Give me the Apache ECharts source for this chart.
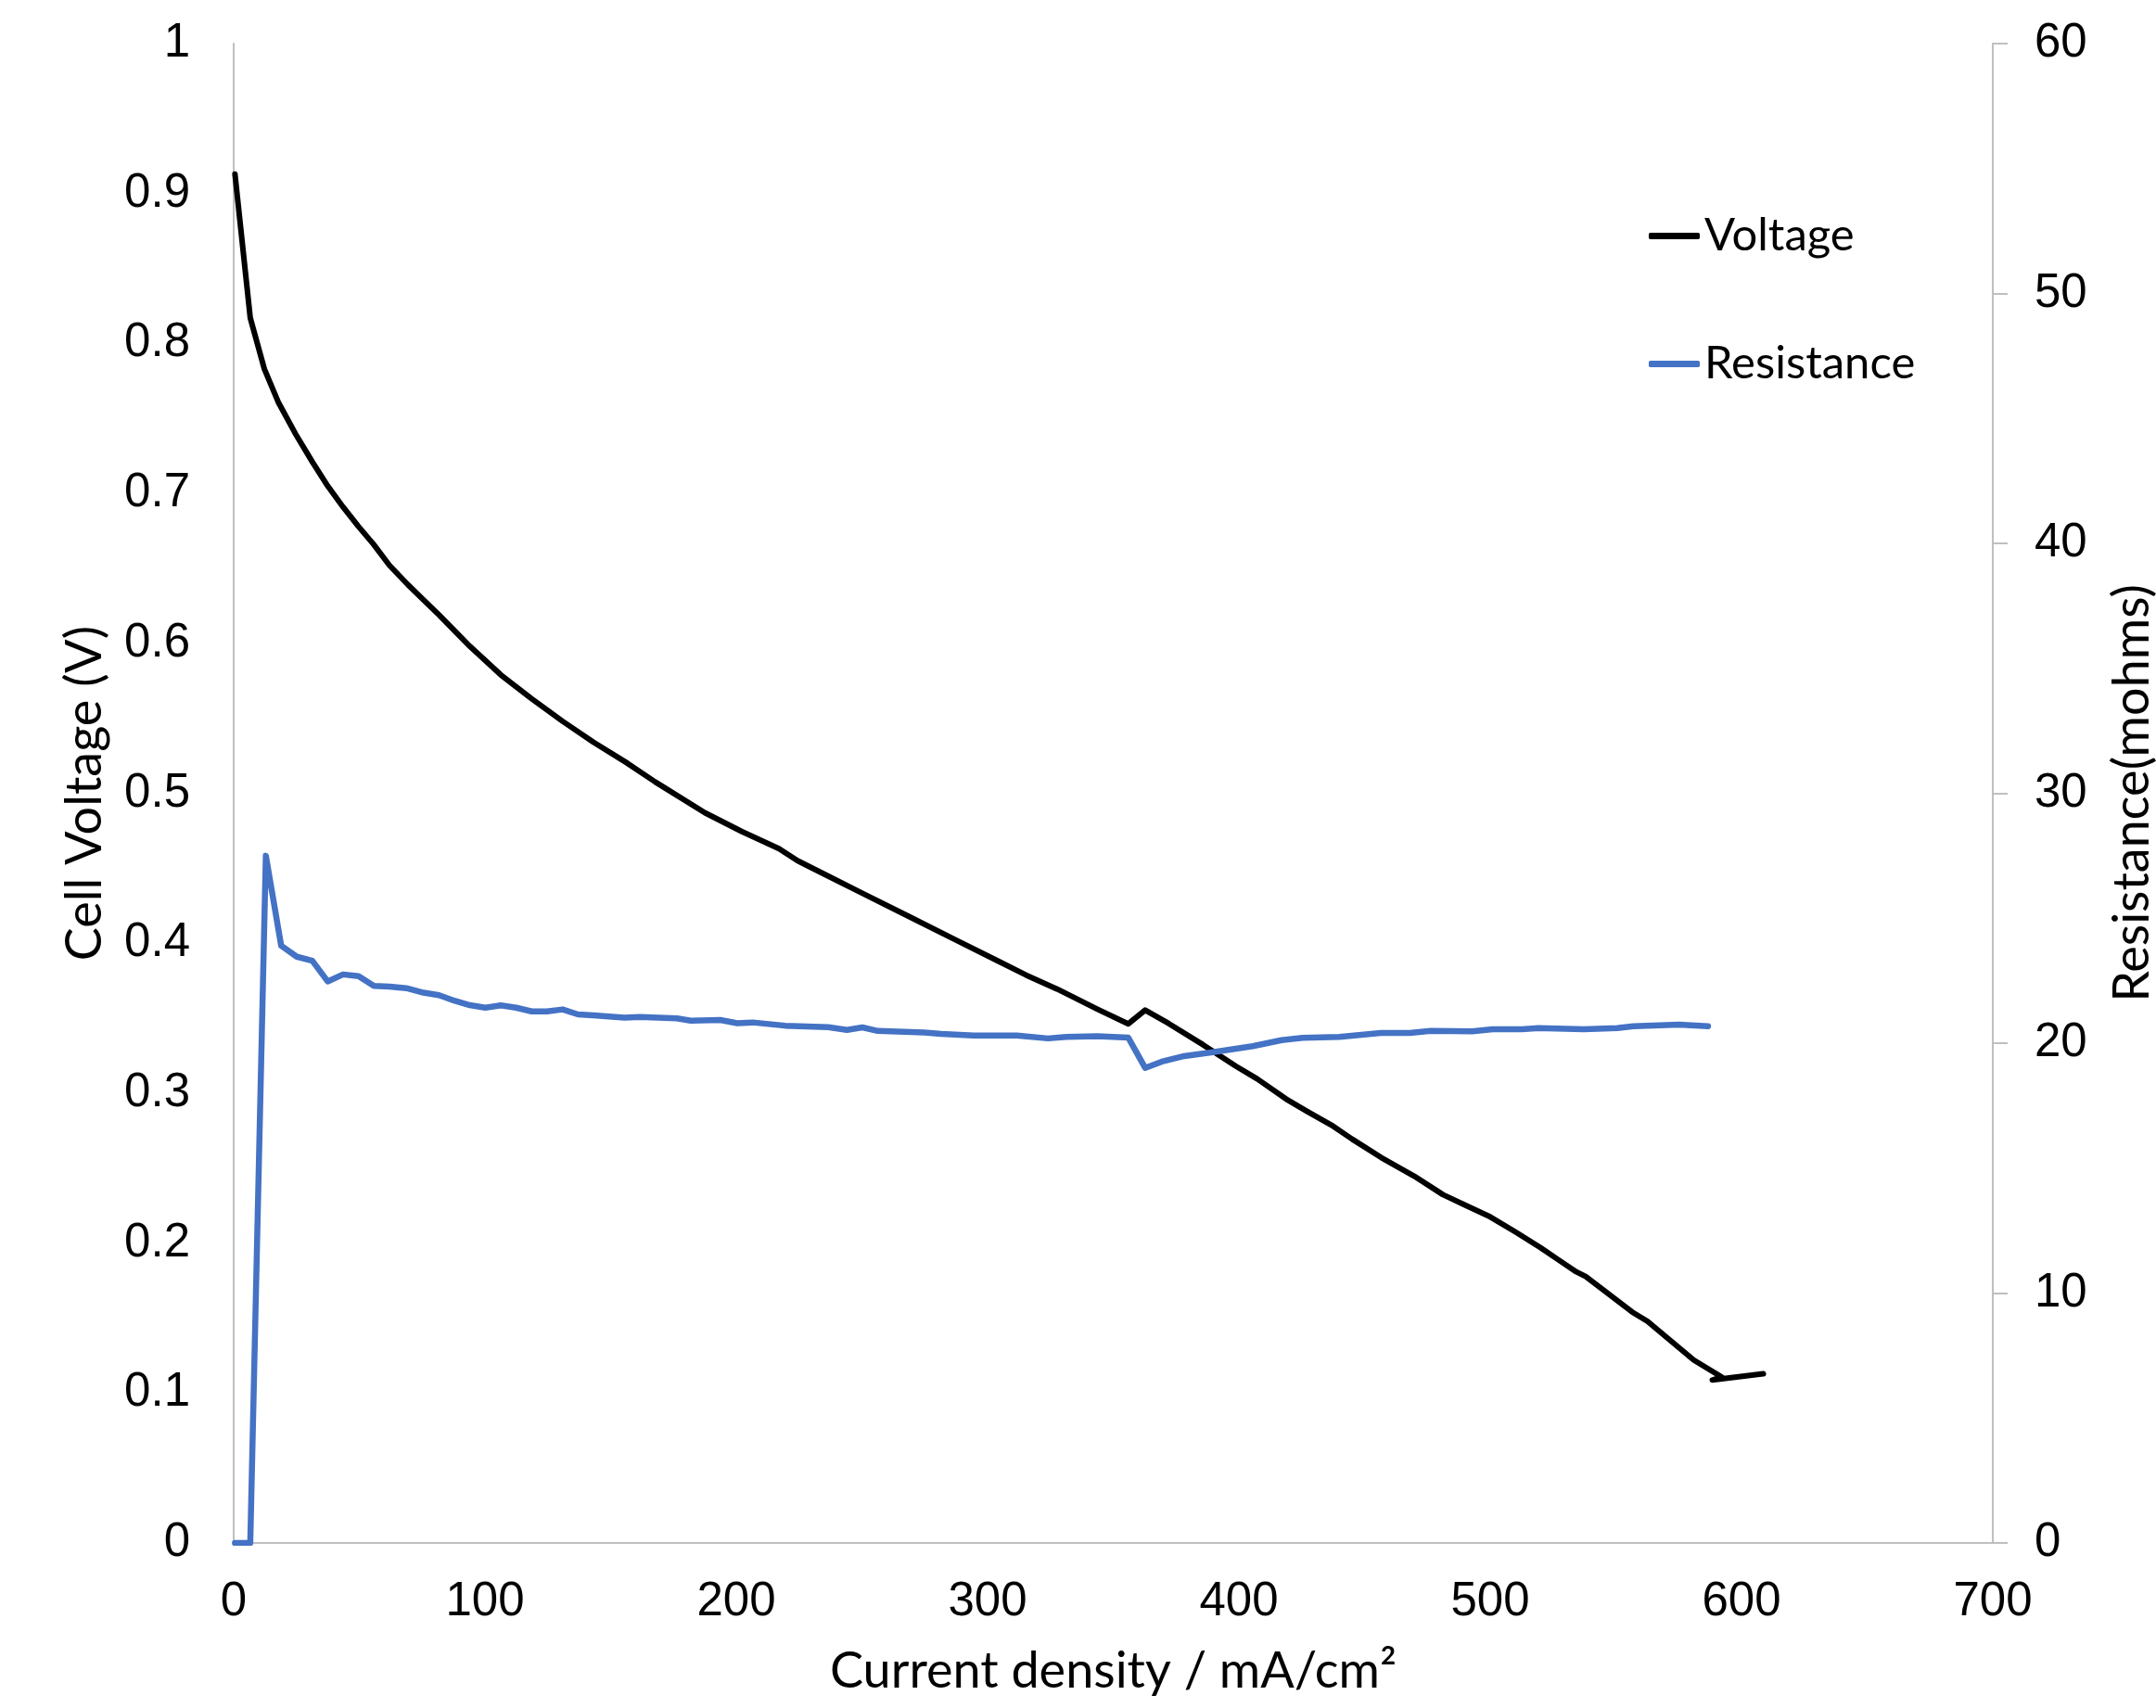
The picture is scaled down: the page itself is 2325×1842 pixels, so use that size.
<!DOCTYPE html>
<html>
<head>
<meta charset="utf-8">
<script src="https://cdn.jsdelivr.net/npm/echarts@6/dist/echarts.min.js"></script>
<style>
  html, body { margin: 0; padding: 0; background: #fff; }
  #chart { width: 2325px; height: 1842px; }
</style>
</head>
<body>
<div id="chart"></div>
<script>
// polarisation curve (mA/cm2 -> V)
const currentV = [0.5, 6.6, 12.2, 17.7, 24.5, 31.3, 37.4, 43.5, 49.6, 55.7, 62, 69.4, 75.5, 81.7, 94, 106.3,
  118.6, 130.9, 143.2, 156.7, 167.8, 187.5, 202.2, 217, 224.4, 235.4, 250.2, 268.6, 287.1, 303.1, 315.4,
  327.7, 343.7, 356, 362.7, 372, 385.7, 398.9, 407.2, 418.7, 427, 436.8, 445, 456.6, 469.7, 481.2, 490.3,
  500, 510, 520, 527, 534.3, 538, 556.5, 562.6, 581, 592.1, 588.4, 608.7];
const voltage = [0.913, 0.817, 0.783, 0.761, 0.740, 0.721, 0.705, 0.691, 0.678, 0.666, 0.652, 0.639, 0.629,
  0.619, 0.598, 0.579, 0.563, 0.548, 0.534, 0.520, 0.5075, 0.487, 0.4745, 0.463, 0.455, 0.4457, 0.4333,
  0.4179, 0.4024, 0.389, 0.3787, 0.3694, 0.356, 0.3462, 0.3554, 0.3465, 0.3323, 0.3179, 0.3096, 0.2962,
  0.288, 0.2787, 0.2694, 0.2571, 0.2447, 0.2323, 0.2251, 0.2175, 0.2075, 0.197, 0.189, 0.1808, 0.1777,
  0.154, 0.1478, 0.122, 0.1107, 0.1087, 0.1128];

// high frequency resistance (mA/cm2 -> mohms)
const currentR = [0.5, 6.6, 12.8, 18.9, 25.1, 31.3, 37.4, 43.5, 49.7, 55.8, 62, 68.7, 75.5, 81.7, 87.8,
  94, 100.1, 106.3, 112.4, 118.6, 124.7, 130.9, 137, 143.2, 149.3, 155.5, 161.6, 169, 176.4, 181.9,
  193.6, 200.4, 206.5, 219.4, 236.6, 244, 250.2, 256.3, 274.8, 281.5, 294.5, 311.6, 324, 331.4, 343.7,
  356, 362.7, 369.3, 377.5, 389, 405.5, 417, 425.3, 440, 456.5, 468, 476.3, 492.8, 501, 512.6,
  519.2, 537.3, 550.5, 557, 575.2, 586.7];
const resistance = [0, 0, 27.5, 23.9, 23.46, 23.3, 22.47, 22.75, 22.68, 22.29, 22.26, 22.2, 22.02, 21.92, 21.7,
  21.52, 21.42, 21.51, 21.42, 21.27, 21.27, 21.35, 21.15, 21.11, 21.07, 21.02, 21.05, 21.02, 20.99, 20.9,
  20.93, 20.8, 20.83, 20.7, 20.64, 20.53, 20.63, 20.49, 20.43, 20.37, 20.31, 20.31, 20.19, 20.25, 20.28,
  20.22, 19.01, 19.26, 19.47, 19.63, 19.88, 20.12, 20.21, 20.25, 20.41, 20.41, 20.49, 20.47, 20.56, 20.56,
  20.6, 20.56, 20.6, 20.68, 20.74, 20.68];

const chart = echarts.init(document.getElementById('chart'));

const tickFont = { color: '#000', fontFamily: 'Liberation Sans', fontSize: 51 };
const nameFont = { color: '#000', fontFamily: 'Lato', fontSize: 54 };
const legendFont = { color: '#000', fontFamily: 'Lato', fontSize: 49 };
const axisGray = { lineStyle: { color: '#BFBFBF', width: 2 } };

chart.setOption({
  backgroundColor: '#fff',
  animation: false,
  grid: { left: 252, right: 176, top: 47, bottom: 178, containLabel: false, outerBoundsMode: 'none' },
  legend: [
    {
      data: ['Voltage'],
      left: 1773, top: 225,
      itemWidth: 55, itemHeight: 7, icon: 'roundRect',
      textStyle: legendFont
    },
    {
      data: ['Resistance'],
      left: 1773, top: 363,
      itemWidth: 55, itemHeight: 7, icon: 'roundRect',
      textStyle: legendFont
    }
  ],
  xAxis: {
    type: 'value',
    min: 0, max: 700, interval: 100,
    name: 'Current density / mA/cm²',
    nameLocation: 'middle',
    nameGap: 112,
    nameTextStyle: nameFont,
    axisLine: axisGray,
    axisTick: { show: false },
    splitLine: { show: false },
    axisLabel: Object.assign({ margin: 38 }, tickFont)
  },
  yAxis: [
    {
      type: 'value',
      min: 0, max: 1, interval: 0.1,
      name: 'Cell Voltage (V)',
      nameLocation: 'middle',
      nameGap: 133,
      nameTextStyle: nameFont,
      axisLine: Object.assign({ show: true }, axisGray),
      axisTick: { show: false },
      splitLine: { show: false },
      axisLabel: Object.assign({ margin: 47 }, tickFont)
    },
    {
      type: 'value',
      min: 0, max: 60, interval: 10,
      name: 'Resistance(mohms)',
      nameLocation: 'middle',
      nameGap: 124,
      nameTextStyle: nameFont,
      position: 'right',
      axisLine: Object.assign({ show: true }, axisGray),
      axisTick: { show: true, inside: false, length: 16, lineStyle: { color: '#BFBFBF', width: 2 } },
      splitLine: { show: false },
      axisLabel: Object.assign({ margin: 45 }, tickFont)
    }
  ],
  series: [
    {
      name: 'Voltage',
      type: 'line',
      yAxisIndex: 0,
      symbol: 'none',
      color: '#000000',
      lineStyle: { color: '#000000', width: 6, cap: 'round', join: 'round' },
      data: currentV.map((x, i) => [x, voltage[i]])
    },
    {
      name: 'Resistance',
      type: 'line',
      yAxisIndex: 1,
      symbol: 'none',
      color: '#4472C4',
      lineStyle: { color: '#4472C4', width: 6.5, cap: 'round', join: 'round' },
      data: currentR.map((x, i) => [x, resistance[i]])
    }
  ]
});
</script>
</body>
</html>
